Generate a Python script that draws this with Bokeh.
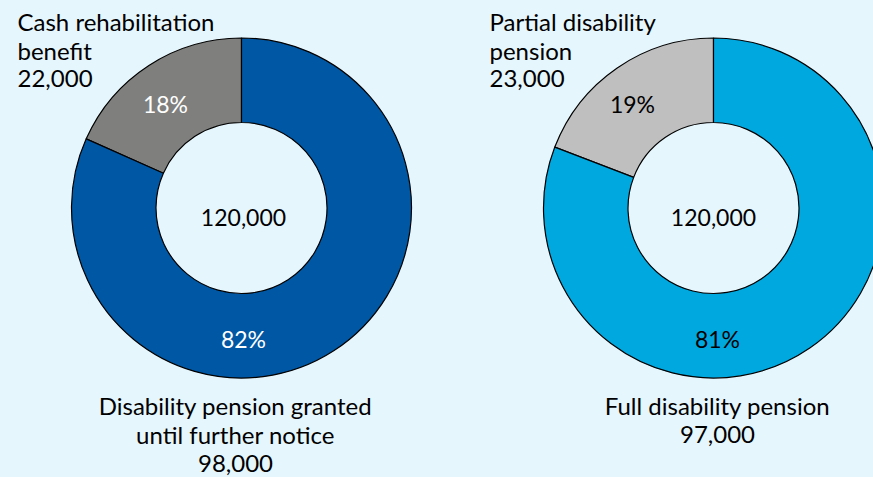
import numpy as np
from bokeh.plotting import figure
from bokeh.models import Range1d, ColumnDataSource, GlobalInlineStyleSheet
from bokeh.core.properties import value
from bokeh.embed import file_html
from bokeh.resources import INLINE

# ---- data ----
left_label_small = ["Cash rehabilitation", "benefit", "22,000"]
left_label_big = ["Disability pension granted", "until further notice", "98,000"]
left_values = [22000, 98000]
left_colors = ["#7f7f7d", "#0057a4"]
left_pct_colors = ["white", "white"]

right_label_small = ["Partial disability", "pension", "23,000"]
right_label_big = ["Full disability pension", "97,000"]
right_values = [23000, 97000]
right_colors = ["#bfbfbf", "#00a8e0"]
right_pct_colors = ["black", "black"]

totals_text = ["120,000", "120,000"]

BG = "#e6f6fd"
FONT = "Lato"
W, H = 873, 477  # data y = H - screen_y

p = figure(width=W, height=H, output_backend="svg", toolbar_location=None,
           x_range=Range1d(0, W), y_range=Range1d(0, H))
p.axis.visible = False
p.grid.visible = False
p.outline_line_color = None
p.background_fill_color = BG
p.border_fill_color = BG
p.min_border = 0
p.stylesheets = [GlobalInlineStyleSheet(css=f"body{{background:{BG};}}")]


def donut(cx, cy, vals, colors):
    vals = np.array(vals, dtype=float)
    frac = vals / vals.sum()
    cum = np.concatenate([[0], np.cumsum(frac)])
    starts = np.pi / 2 + 2 * np.pi * cum[:-1]
    ends = np.pi / 2 + 2 * np.pi * cum[1:]
    src = ColumnDataSource(dict(x=[cx] * len(vals), y=[H - cy] * len(vals),
                                start=starts, end=ends, color=colors))
    p.annular_wedge(x="x", y="y", inner_radius=85.5, outer_radius=170,
                    start_angle="start", end_angle="end", direction="anticlock",
                    fill_color="color", line_color="black", line_width=1.2, source=src)
    return frac


def txt(x, y, s, align="left", color="black", size="24px"):
    p.text(x=[x], y=[H - y], text=[s], text_align=align, text_baseline="middle",
           text_color=color, text_font=value(FONT), text_font_size=size)


def lines(x, y0, step, items, align):
    for i, s in enumerate(items):
        txt(x, y0 + i * step, s, align)


fl = donut(241, 207.5, left_values, left_colors)
fr = donut(713, 207.5, right_values, right_colors)

# centre totals
txt(243, 217, totals_text[0], "center", size="23px")
txt(713, 217, totals_text[1], "center", size="23px")

# percentages
txt(165, 103, f"{round(fl[0]*100)}%", "center", left_pct_colors[0], "23px")
txt(243, 338, f"{round(fl[1]*100)}%", "center", left_pct_colors[1], "23px")
txt(632, 103, f"{round(fr[0]*100)}%", "center", right_pct_colors[0], "23px")
txt(717, 338, f"{round(fr[1]*100)}%", "center", right_pct_colors[1], "23px")

# category labels
lines(17, 21, 28.5, left_label_small, "left")
lines(489, 21, 28.5, right_label_small, "left")
lines(235, 405, 29, left_label_big, "center")
lines(717, 405, 28.5, right_label_big, "center")

open("out.html", "w").write(file_html(p, INLINE))
